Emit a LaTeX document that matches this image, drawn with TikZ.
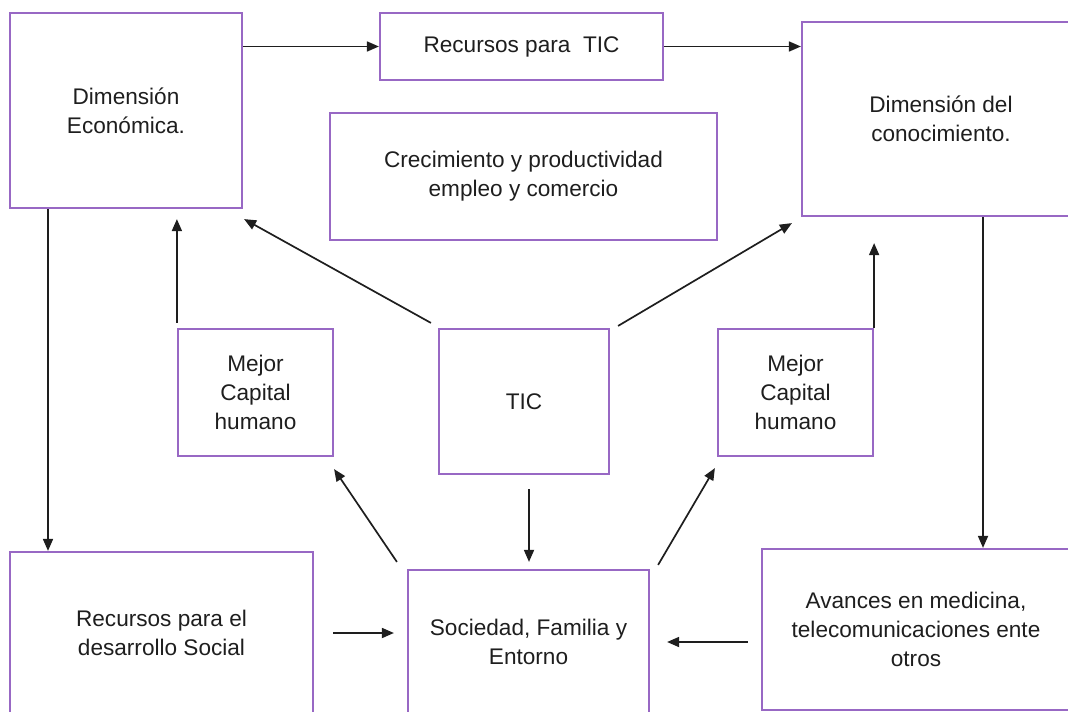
\documentclass[tikz,border=0pt]{standalone}
\usepackage{fontspec}
\setmainfont{Liberation Sans}
\usetikzlibrary{arrows.meta}
\definecolor{boxpurple}{RGB}{152,104,196}
\definecolor{inkgray}{RGB}{30,30,30}
\tikzset{
  box/.style={draw=boxpurple, line width=1.1pt, rectangle, align=center, inner sep=0pt,
    text=inkgray, font=\fontsize{11.3pt}{14.5pt}\selectfont},
  arr/.style={draw=inkgray, line width=0.85pt, -{Triangle[length=6pt,width=5pt]}}
}
\begin{document}
\begin{tikzpicture}[x=0.5pt,y=-0.5pt]
\useasboundingbox (0,0) rectangle (1068,711);
\clip (0,0) rectangle (1068,711);
% boxes
\node[box, minimum width=116pt, minimum height=97.5pt] (eco) at (126,110.5) {Dimensión\\Económica.};
\node[box, minimum width=141.5pt, minimum height=33.5pt] (rtic) at (521.5,46.5) {Recursos para\ \ TIC};
\node[box, minimum width=193.5pt, minimum height=63.5pt] (crec) at (523.5,176.5) {Crecimiento y productividad\\empleo y comercio};
\node[box, minimum width=139pt, minimum height=97pt] (con) at (941,119) {Dimensión del\\conocimiento.};
\node[box, minimum width=77.5pt, minimum height=63.5pt] (mejL) at (255.5,392.5) {Mejor\\Capital\\humano};
\node[box, minimum width=85pt, minimum height=72.5pt] (tic) at (524,401.5) {TIC};
\node[box, minimum width=77.5pt, minimum height=63.5pt] (mejR) at (795.5,392.5) {Mejor\\Capital\\humano};
\node[box, minimum width=151.5pt, minimum height=81pt] (rsoc) at (161.5,633) {Recursos para el\\desarrollo Social};
\node[box, minimum width=120.5pt, minimum height=72pt] (soc) at (528.5,642) {Sociedad, Familia y\\Entorno};
\node[box, minimum width=154pt, minimum height=80.5pt] (av) at (916,629.5) {Avances en medicina,\\telecomunicaciones ente\\otros};
% helper coordinates
\coordinate (c1) at (mejR.north east |- con.south);
\coordinate (c2) at (soc.west |- rsoc.east);
\coordinate (c3) at (av.west |- soc.east);
% connectors
\draw[arr] (eco.east |- rtic.west) -- (rtic.west);
\draw[arr] (rtic.east) -- (rtic.east -| con.west);
\draw[arr] ([xshift=-39pt]eco.south) -- ([xshift=-56.75pt]rsoc.north);
\draw[arr] ([yshift=2.5pt]mejL.north west) -- ([yshift=-5pt]eco.south -| mejL.north west);
\draw[arr] ([shift={(-3.5pt,2.5pt)}]tic.north west) -- ([shift={(0.5pt,-5pt)}]eco.south east);
\draw[arr] ([shift={(4pt,1pt)}]tic.north east) -- ([shift={(-4.5pt,-3pt)}]con.south west);
\draw[arr] (mejR.north east) -- ([yshift=-13pt]c1);
\draw[arr] ([xshift=21pt]con.south) -- ([xshift=33.5pt]av.north);
\draw[arr] ([shift={(2.5pt,-7pt)}]tic.south) -- ([shift={(0.25pt,3.5pt)}]soc.north);
\draw[arr] ([shift={(-5pt,3.5pt)}]soc.north west) -- ([yshift=-6pt]mejL.south east);
\draw[arr] ([shift={(4pt,2pt)}]soc.north east) -- ([shift={(-1pt,-5.5pt)}]mejR.south west);
\draw[arr] ([xshift=9.5pt]rsoc.east) -- ([xshift=-6.5pt]c2);
\draw[arr] ([xshift=-6.5pt]c3) -- ([xshift=8.5pt]soc.east);
\end{tikzpicture}
\end{document}
